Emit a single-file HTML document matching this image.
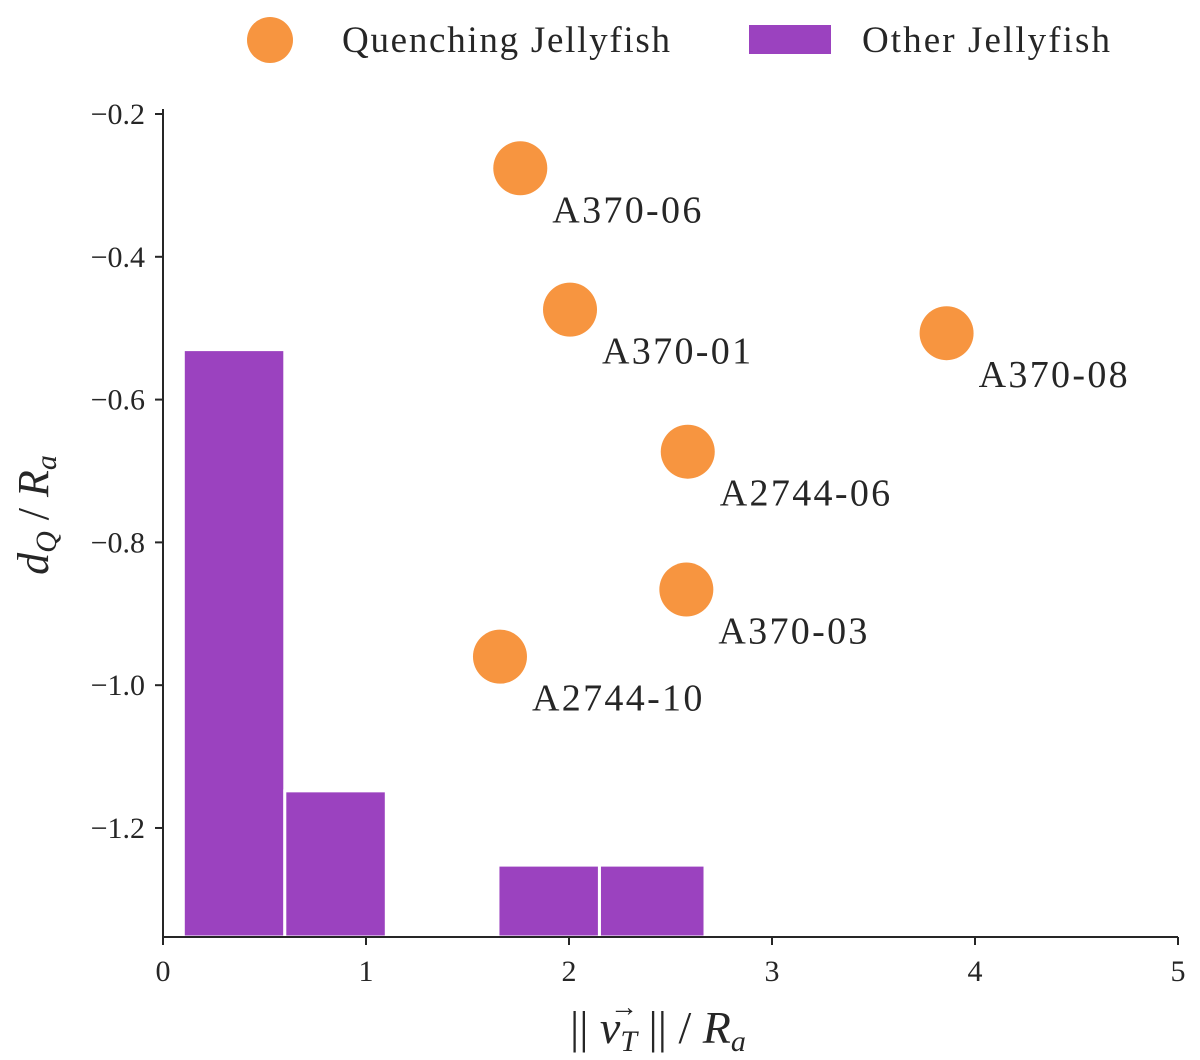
<!DOCTYPE html>
<html><head><meta charset="utf-8"><style>
body{margin:0;background:#fff}
svg text{font-family:"Liberation Serif","DejaVu Serif",serif;fill:#262626}
</style></head><body>
<svg id="chart" width="1200" height="1055" xmlns="http://www.w3.org/2000/svg">
<g id="legend">
<circle cx="270" cy="40" r="23" fill="#f79540"/>
<text x="342" y="52" font-size="37" textLength="328" lengthAdjust="spacing">Quenching Jellyfish</text>
<rect x="749" y="25" width="82" height="29" fill="#9b42bf"/>
<text x="862" y="52" font-size="37" textLength="248" lengthAdjust="spacing">Other Jellyfish</text>
</g>
<g id="bars"></g><g id="points"></g><g id="axes"></g>
<text x="48" y="515" font-size="44" font-style="italic" transform="rotate(-90 48 515)" text-anchor="middle">d<tspan font-size="30" dy="8">Q</tspan><tspan dy="-8" font-style="normal"> / </tspan>R<tspan font-size="30" dy="8">a</tspan></text>
<g>
<text x="570" y="1043" font-size="46">|| <tspan font-style="italic">v</tspan><tspan font-size="30" font-style="italic" dy="8">T</tspan><tspan dy="-8"> || / </tspan><tspan font-style="italic">R</tspan><tspan font-size="30" font-style="italic" dy="8">a</tspan></text>
<text x="610" y="1016" font-size="28">→</text>
</g>
</svg>
<script>
const barLeft=[0.1,0.6,1.65,2.15];
const barRight=[0.6,1.1,2.15,2.67];
const barTop=[-0.53,-1.148,-1.252,-1.252];
const pointNames=["A370-06","A370-01","A370-08","A2744-06","A370-03","A2744-10"];
const pointX=[1.76,2.005,3.86,2.585,2.578,1.66];
const pointY=[-0.276,-0.474,-0.507,-0.673,-0.866,-0.960];
const xTicks=[0,1,2,3,4,5];
const yTicks=[-0.2,-0.4,-0.6,-0.8,-1.0,-1.2];
const yTickLabels=["−0.2","−0.4","−0.6","−0.8","−1.0","−1.2"];
const X0=163,X1=1178,Y0=937,Y1=114,xmin=0,xmax=5,ymin=-1.3527,ymax=-0.2;
const sx=v=>X0+(v-xmin)/(xmax-xmin)*(X1-X0);
const sy=v=>Y0-(v-ymin)/(ymax-ymin)*(Y0-Y1);
const NS="http://www.w3.org/2000/svg";
function mk(tag,attrs,parent){const e=document.createElementNS(NS,tag);for(const k in attrs)e.setAttribute(k,attrs[k]);parent.appendChild(e);return e;}
const bars=document.getElementById('bars'),pts=document.getElementById('points'),axes=document.getElementById('axes');
barLeft.forEach((l,i)=>{
 const r=mk('rect',{x:sx(l),y:sy(barTop[i]),width:sx(barRight[i])-sx(l),height:Y0-sy(barTop[i]),fill:'#9b42bf',stroke:'#fff','stroke-width':3},bars);
 
 
});
pointX.forEach((x,i)=>{
 const c=mk('circle',{cx:sx(x),cy:sy(pointY[i]),r:27,fill:'#f79540'},pts);
 
 
 const t=mk('text',{x:sx(x)+32,y:sy(pointY[i])+54,'font-size':38,textLength:pointNames[i].length*21.3,lengthAdjust:'spacing'},pts);
 t.textContent=pointNames[i];
 
 
});
const ya=mk('line',{x1:X0,y1:Y1-5,x2:X0,y2:Y0,stroke:'#262626','stroke-width':2},axes);


const xa=mk('line',{x1:X0,y1:Y0,x2:X1,y2:Y0,stroke:'#262626','stroke-width':2},axes);


xTicks.forEach(v=>{
 mk('line',{x1:sx(v),y1:Y0,x2:sx(v),y2:Y0+8,stroke:'#262626','stroke-width':2},axes);
 const t=mk('text',{x:sx(v),y:Y0+44,'font-size':30,'text-anchor':'middle'},axes);
 t.textContent=v;
 
 
});
yTicks.forEach((v,i)=>{
 mk('line',{x1:X0-8,y1:sy(v),x2:X0,y2:sy(v),stroke:'#262626','stroke-width':2},axes);
 const t=mk('text',{x:X0-18,y:sy(v)+10,'font-size':30,'text-anchor':'end'},axes);
 t.textContent=yTickLabels[i];
 
 
});
</script>
</body></html>
